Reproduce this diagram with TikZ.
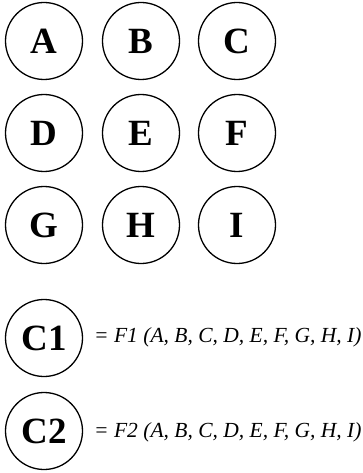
\documentclass[tikz,border=0pt]{standalone}
\usepackage{fontspec}
\setmainfont{Liberation Serif}
\begin{document}
\begin{tikzpicture}[x=1pt,y=-1pt,
  var/.style={draw, circle, line width=1.3pt, minimum size=77pt, inner sep=0pt,
    font=\fontsize{37}{37}\selectfont\bfseries},
  formula/.style={anchor=base west, inner sep=0pt,
    font=\fontsize{21.5}{21.5}\selectfont\itshape}]
\useasboundingbox (0,0) rectangle (362,473);
\node[var] (A) at (44,41) {A};
\node[var] (B) at (141,41) {B};
\node[var] (C) at (237,41) {C};
\node[var] (D) at (44,133) {D};
\node[var] (E) at (141,133) {E};
\node[var] (F) at (237,133) {F};
\node[var] (G) at (44,225) {G};
\node[var] (H) at (141,225) {H};
\node[var] (I) at (237,225) {I};
\node[var] (C1) at (44,338) {C1};
\node[var] (C2) at (44,431) {C2};
\node[formula] (f1) at (94,342) {= F1 (A, B, C, D, E, F, G, H, I)};
\node[formula] (f2) at (94,437) {= F2 (A, B, C, D, E, F, G, H, I)};
\end{tikzpicture}
\end{document}
